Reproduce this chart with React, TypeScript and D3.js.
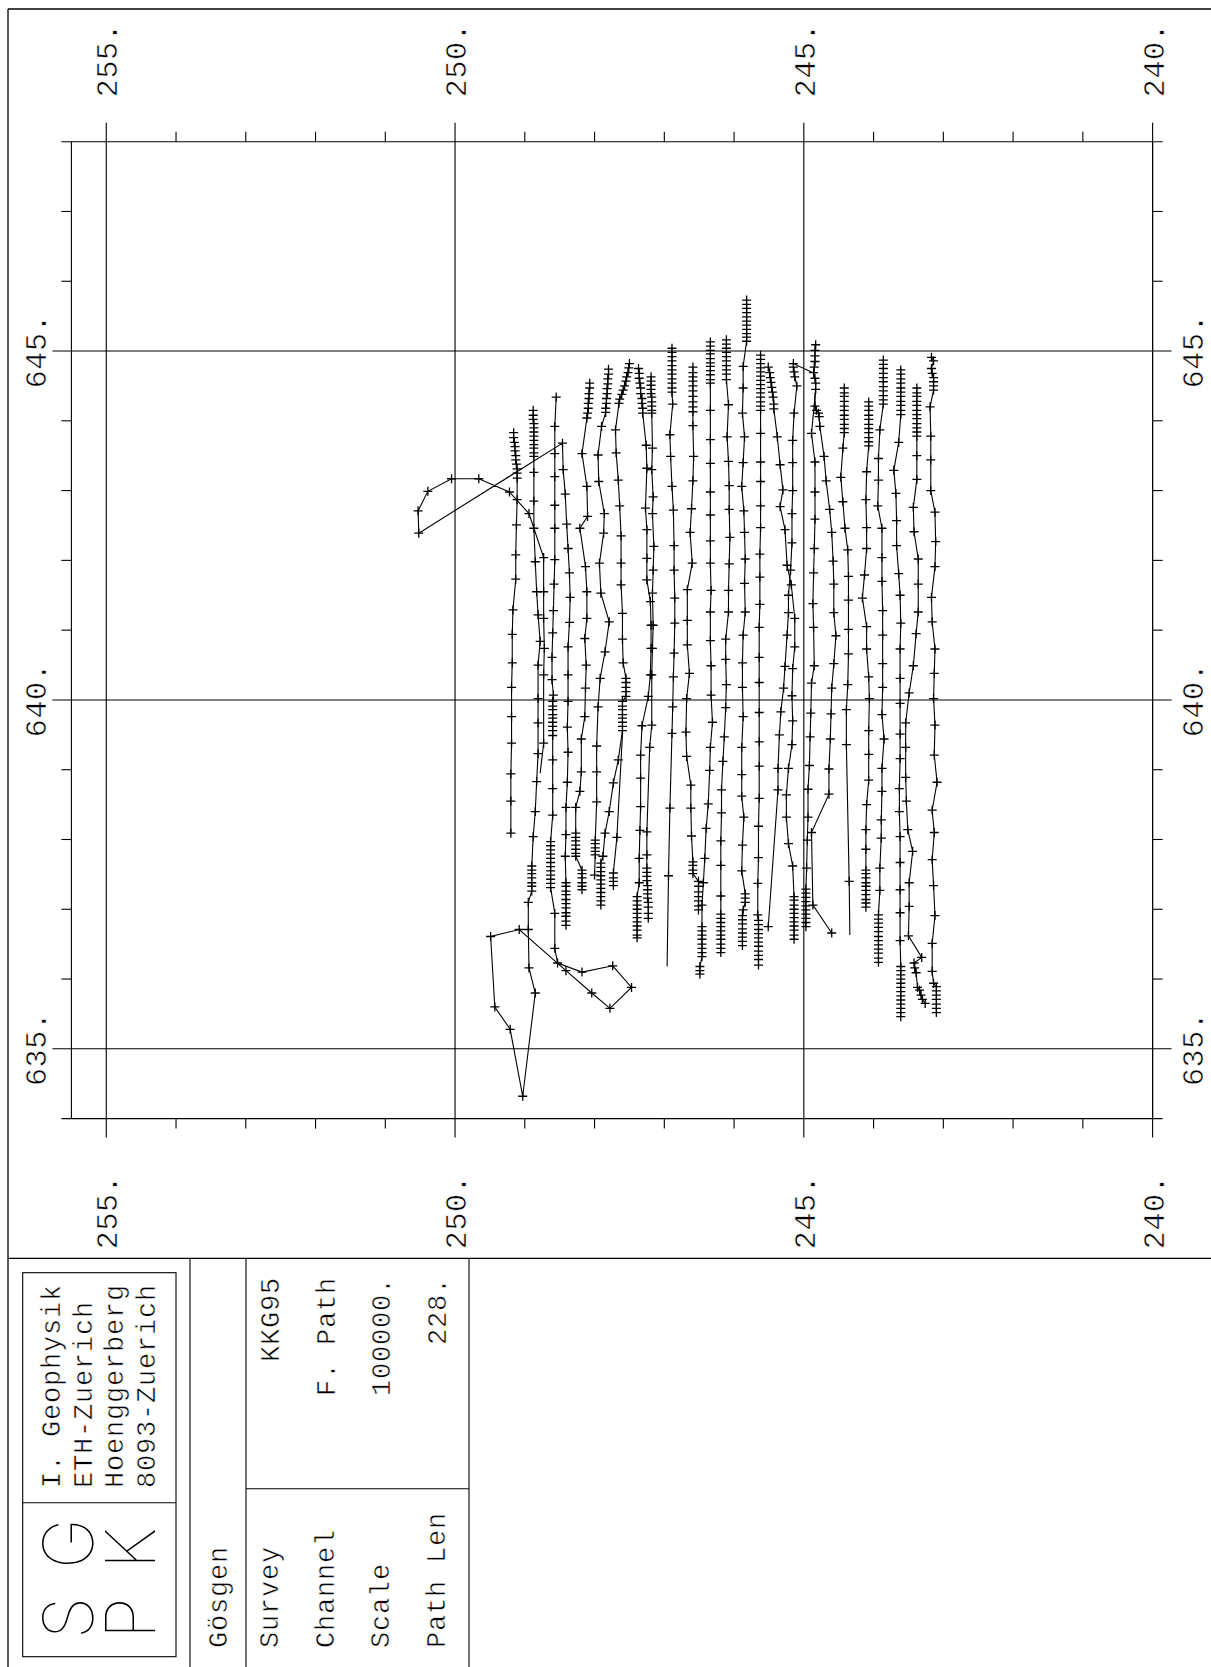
import React from 'react';
import * as d3 from 'd3';

// ---- axis ticks and labels ----
const eastMajor = [255, 250, 245, 240];
const eastLabels = ['255.', '250.', '245.', '240.'];
const eastMinor = [254, 253, 252, 251, 249, 248, 247, 246, 244, 243, 242, 241];
const northMajor = [645, 640, 635];
const northLabels = ['645.', '640.', '635.'];
const northMinor = [647, 646, 644, 643, 642, 641, 639, 638, 637, 636];

// ---- title block texts ----
const addressLines = ['I. Geophysik', 'ETH-Zuerich', 'Hoenggerberg', '8093-Zuerich'];
const siteName = 'Gösgen';
const infoKeys = ['Survey', 'Channel', 'Scale', 'Path Len'];
const infoValues = ['KKG95', 'F. Path', '100000.', '228.'];
const logoRows = [['S', 'G'], ['P', 'K']];

// ---- flight paths: [east, north] in km, third value 0 = no marker ----
type Pt = number[];

const line01: Pt[] = [[249.16,643.83],[249.16,643.76],[249.15,643.69],[249.14,643.63],[249.14,643.57],[249.13,643.50],[249.13,643.44],[249.12,643.38],[249.11,643.31],[249.11,643.25],[249.11,643.18],[249.11,642.87],[249.12,642.51],[249.13,642.08],[249.13,641.73],[249.17,641.29],[249.18,640.94],[249.18,640.53],[249.19,640.18],[249.19,639.76],[249.19,639.38],[249.20,638.94],[249.20,638.55],[249.20,638.09]];

const line02: Pt[] = [[248.88,644.15],[248.88,644.08],[248.88,644.02],[248.87,643.96],[248.87,643.90],[248.87,643.84],[248.87,643.78],[248.87,643.72],[248.87,643.66],[248.87,643.61],[248.87,643.54],[248.87,643.49],
[248.87,643.26],[248.87,642.85],[248.87,642.46],[248.85,641.98],[248.83,641.55],[248.81,641.22],[248.78,640.84],[248.81,640.50],[248.81,640.02],
[248.81,639.67],[248.81,639.23],[248.83,638.83],[248.85,638.40],[248.88,638.04],
[248.90,637.62],[248.90,637.56],[248.90,637.51],[248.90,637.45],[248.90,637.38],[248.90,637.33],[248.90,637.26],
[248.95,637.10],[248.95,636.71],[248.94,636.16],[248.85,635.80],[249.03,634.32],[249.21,635.28],[249.43,635.60],[249.49,636.61],[249.08,636.71],[248.41,636.12],[248.04,635.80],[247.78,635.58],[247.47,635.88],[247.74,636.19],[248.18,636.10],[248.53,636.23],[248.57,636.44],[248.57,636.94],
[248.63,637.31],[248.63,637.37],[248.63,637.43],[248.63,637.49],[248.63,637.55],[248.63,637.61],[248.63,637.67],[248.63,637.73],[248.63,637.79],[248.63,637.85],[248.63,637.91],[248.63,637.97],
[248.60,638.35],[248.60,638.73],[248.60,639.14],
[248.60,639.49],[248.60,639.56],[248.60,639.62],[248.60,639.68],[248.60,639.74],[248.60,639.79],[248.60,639.86],[248.60,639.91],[248.60,639.98],[248.59,640.07],
[248.61,640.29],[248.61,640.61],[248.60,640.96],[248.59,641.28],[248.58,641.66],[248.57,642.01],[248.57,642.46],[248.57,642.79],[248.57,643.20],[248.57,643.53],[248.57,643.92],[248.55,644.34]];

const line03: Pt[] = [[248.41,636.77],[248.41,636.83],[248.41,636.90],[248.41,636.95],[248.41,637.02],[248.41,637.08],[248.41,637.14],[248.41,637.21],[248.41,637.26],[248.41,637.33],[248.41,637.38],
[248.42,637.76],[248.41,638.07],[248.41,638.46],[248.39,638.82],[248.38,639.25],[248.39,639.61],[248.38,639.98],
[248.38,640.36],[248.38,640.76],[248.36,641.11],[248.35,641.47],[248.36,641.82],[248.38,642.17],[248.40,642.52],[248.42,642.95],[248.45,643.30],[248.46,643.68],
[250.52,642.39],[250.53,642.71],[250.39,642.99],[250.05,643.17],[249.66,643.17],[249.22,642.98],[248.94,642.67],[248.73,642.04],[248.73,641.55],[248.73,641.17],[248.72,640.74],[248.73,640.36],[248.73,639.38],[248.78,638.95,0]];

const line04: Pt[] = [[248.07,644.54],[248.07,644.47],[248.08,644.39],[248.08,644.32],[248.09,644.25],[248.09,644.18],[248.10,644.11],[248.11,644.04],[248.18,643.53],[248.11,643.06],[248.10,642.63],[248.21,642.46],[248.13,641.91],[248.11,641.55],[248.11,641.17],[248.14,640.88],[248.12,640.50],[248.13,640.17],[248.14,639.76],[248.19,639.44],[248.19,638.97],[248.21,638.69],[248.27,638.46],[248.27,638.09],[248.27,638.03],[248.27,637.98],[248.27,637.92],[248.27,637.86],[248.27,637.80],[248.27,637.76],[248.18,637.56],[248.18,637.51],[248.18,637.45],[248.18,637.38],[248.18,637.33],[248.18,637.28]];

const line05: Pt[] = [[247.80,644.74],[247.80,644.67],[247.81,644.60],[247.81,644.53],[247.82,644.46],[247.82,644.39],[247.83,644.32],[247.83,644.25],[247.84,644.18],[247.84,644.12],[247.90,643.92],[247.95,643.51],[247.94,643.13],[247.86,642.67],[247.87,642.39],[247.93,641.96],[247.91,641.53],[247.79,641.12],[247.85,640.69],[247.92,640.31],[247.95,639.90],[247.97,639.34],[247.97,638.97],[247.97,638.54],[247.99,637.99],[247.99,637.94],[247.99,637.88],[247.99,637.83],[247.99,637.78],[248.00,637.49]];

const line06: Pt[] = [[247.50,644.82],[247.51,644.76],[247.52,644.69],[247.54,644.63],[247.55,644.57],[247.57,644.50],[247.59,644.44],[247.61,644.38],[247.64,644.31],[247.65,644.25],[247.70,643.87],[247.69,643.54],[247.66,643.15],[247.64,642.78],[247.62,642.35],[247.62,641.96],[247.62,641.65],[247.60,641.24],[247.60,640.87],[247.59,640.53],[247.55,640.31],[247.55,640.25],[247.55,640.18],[247.55,640.12],[247.55,640.05],[247.60,639.98],[247.60,639.91],[247.60,639.86],[247.60,639.79],[247.60,639.74],[247.60,639.68],[247.60,639.62],[247.60,639.56],[247.66,639.14],[247.73,638.81],[247.79,638.40],[247.85,638.09],[247.88,637.76],[247.91,637.66],[247.91,637.60],[247.91,637.54],[247.91,637.48],[247.91,637.42],[247.91,637.36],[247.91,637.30],[247.91,637.24],[247.91,637.18],[247.91,637.12],[247.91,637.06]];

const line07: Pt[] = [[247.60,639.50,0],[247.68,638.03],[247.73,637.52],[247.73,637.45],[247.73,637.40],[247.73,637.34]];

const line08: Pt[] = [[247.37,644.75],[247.36,644.68],[247.36,644.61],[247.35,644.54],[247.34,644.47],[247.34,644.39],[247.32,644.32],[247.32,644.25],[247.31,644.18],[247.31,644.11],[247.26,643.65],[247.25,643.32],[247.27,642.75],[247.25,642.44],[247.25,642.03],[247.25,641.72],[247.20,641.41],[247.19,641.07],[247.19,640.74],[247.20,640.36],[247.23,640.05],[247.32,639.63],[247.34,639.21],[247.34,638.88],[247.34,638.47],[247.35,638.13],[247.36,637.73],[247.36,637.38],[247.39,637.18],[247.39,637.12],[247.39,637.06],[247.39,637.00],[247.39,636.94],[247.39,636.88],[247.39,636.82],[247.39,636.76],[247.39,636.70],[247.39,636.63],[247.39,636.59]];

const line09: Pt[] = [[247.19,644.63],[247.19,644.57],[247.19,644.51],[247.19,644.45],[247.19,644.39],[247.18,644.34],[247.18,644.27],[247.18,644.21],[247.18,644.15],[247.18,644.11],[247.17,643.61],[247.18,643.30],[247.16,642.91],[247.17,642.67],[247.15,642.20],[247.16,641.86],[247.17,641.53],[247.16,641.07],[247.17,640.74],[247.18,640.36],[247.18,639.64],[247.21,639.32],[247.25,638.11],[247.25,637.78],[247.25,637.59],[247.25,637.53],[247.25,637.47],[247.25,637.41],[247.24,637.34],[247.24,637.28],[247.24,637.22],[247.24,637.16],[247.23,637.10],[247.23,637.03],[247.23,636.94],[247.23,636.87]];

const line10: Pt[] = [[246.89,645.04],[246.89,644.98],[246.89,644.92],[246.89,644.86],[246.89,644.79],[246.89,644.73],[246.89,644.67],[246.89,644.60],[246.89,644.54],[246.89,644.47],[246.89,644.41],[246.88,644.24],[246.92,643.80],[246.91,643.49],[246.89,643.06],[246.87,642.72],[246.86,642.21],[246.86,641.86],[246.85,641.46],[246.85,641.10],[246.86,640.67],[246.87,640.33],[246.88,639.90],[246.89,639.52],[246.92,638.45],[246.94,637.48],[246.96,636.18,0]];

const line11: Pt[] = [[246.59,644.77],[246.59,644.69],[246.59,644.63],[246.59,644.57],[246.59,644.50],[246.59,644.43],[246.59,644.35],[246.59,644.27],[246.59,644.20],[246.59,644.13],[246.59,643.93],[246.58,643.49],[246.59,643.14],[246.61,642.74],[246.63,642.40],[246.60,641.96],[246.67,641.58],[246.67,641.14],[246.67,640.79],[246.64,640.38],[246.68,640.02],[246.69,639.54],[246.68,639.19],[246.62,638.78],[246.62,638.45],[246.61,638.05],[246.59,637.68],[246.59,637.63],[246.59,637.56],[246.59,637.51],[246.51,637.40],[246.51,637.33],[246.51,637.25],[246.51,637.18],[246.51,637.12],[246.51,637.05],[246.51,636.99]];

const line12: Pt[] = [[246.34,645.13],[246.34,645.07],[246.34,645.01],[246.34,644.96],[246.34,644.89],[246.34,644.83],[246.34,644.78],[246.34,644.72],[246.34,644.66],[246.34,644.59],[246.34,644.54],[246.34,644.15],[246.34,643.73],[246.34,643.39],[246.34,642.98],[246.34,642.65],[246.34,642.28],[246.34,641.96],[246.33,641.57],[246.34,641.26],[246.34,640.85],[246.33,640.49],[246.33,640.07],[246.31,639.68],[246.34,639.32],[246.35,638.99],[246.37,638.51],[246.40,638.16],[246.42,637.73],[246.44,637.38],[246.46,637.06],[246.46,636.75],[246.46,636.69],[246.46,636.63],[246.46,636.57],[246.46,636.50],[246.46,636.44],[246.46,636.38],[246.46,636.32],[246.49,636.18],[246.49,636.12],[246.49,636.07]];

const line13: Pt[] = [[246.11,645.16],[246.11,645.10],[246.11,645.04],[246.11,644.98],[246.11,644.92],[246.11,644.86],[246.11,644.79],[246.11,644.73],[246.11,644.67],[246.11,644.59],[246.08,644.23],[246.10,643.77],[246.08,643.42],[246.07,643.07],[246.07,642.73],[246.06,642.33],[246.07,641.95],[246.08,641.57],[246.08,641.26],[246.12,640.87],[246.12,640.58],[246.11,640.22],[246.12,639.89],[246.14,639.47],[246.16,639.12],[246.18,638.71],[246.18,638.38],[246.19,637.98],[246.19,637.63],[246.19,637.19],[246.19,636.93],[246.19,636.87],[246.19,636.81],[246.19,636.75],[246.19,636.69],[246.19,636.63],[246.19,636.57],[246.19,636.50],[246.19,636.44],[246.19,636.38]];

const line14: Pt[] = [[245.82,645.73],[245.82,645.67],[245.82,645.61],[245.82,645.55],[245.82,645.49],[245.82,645.43],[245.82,645.37],[245.82,645.31],[245.82,645.25],[245.82,645.20],[245.82,645.14],[245.87,644.78],[245.87,644.47],[245.88,644.11],[245.85,643.77],[245.87,643.40],[245.89,643.06],[245.86,642.71],[245.85,642.40],[245.84,642.02],[245.85,641.67],[245.84,641.26],[245.87,640.93],[245.88,640.53],[245.88,640.18],[245.87,639.76],[245.89,639.32],[245.89,638.93],[245.89,638.62],[245.86,638.32],[245.88,637.92],[245.89,637.55],[245.84,637.22],[245.84,637.16],[245.84,637.10],[245.87,636.99],[245.88,636.91],[245.88,636.85],[245.88,636.79],[245.88,636.72],[245.88,636.66],[245.88,636.60],[245.88,636.54],[245.88,636.48]];

const line15: Pt[] = [[245.62,644.94],[245.62,644.88],[245.62,644.82],[245.62,644.76],[245.62,644.70],[245.62,644.64],[245.62,644.58],[245.62,644.52],[245.62,644.46],[245.62,644.40],[245.62,644.34],[245.62,644.27],[245.62,644.21],[245.62,644.15],[245.62,643.82],[245.62,643.41],[245.62,643.13],[245.62,642.78],[245.62,642.47],[245.63,642.09],[245.63,641.76],[245.63,641.37],[245.64,641.04],[245.64,640.61],[245.64,640.25],[245.64,639.82],[245.64,639.40],[245.64,639.05],[245.64,638.59],[245.65,638.19],[245.65,637.74],[245.66,637.37],[245.66,636.92],[245.65,636.84],[245.65,636.78],[245.65,636.71],[245.65,636.65],[245.65,636.59],[245.65,636.53],[245.65,636.47],[245.65,636.40],[245.65,636.34],[245.65,636.28],[245.65,636.20]];

const line16: Pt[] = [[245.51,644.77],[245.49,644.69],[245.48,644.62],[245.47,644.55],[245.46,644.48],[245.45,644.41],[245.44,644.34],[245.43,644.24],[245.43,644.17],[245.38,643.77],[245.34,643.37],[245.30,643.01],[245.34,642.77],[245.27,642.44],[245.24,641.93],[245.18,641.65],[245.13,641.17],[245.13,640.76],[245.16,640.45],[245.17,640.06],[245.16,639.70],[245.17,639.36],[245.22,639.02],[245.25,638.64],[245.25,638.32],[245.22,637.94],[245.16,637.62],[245.14,637.18],[245.14,637.13],[245.14,637.06],[245.14,637.00],[245.14,636.94],[245.14,636.88],[245.14,636.82],[245.14,636.76],[245.14,636.70],[245.14,636.63],[245.14,636.57]];

const line17: Pt[] = [[244.87,644.69,0],[245.15,644.82],[245.15,644.77],[245.14,644.70],[245.13,644.63],[245.10,644.50],[245.14,644.11],[245.16,643.72],[245.16,643.40],[245.16,643.00],[245.17,642.67],[245.17,642.25],[245.19,641.86],[245.22,641.50],[245.22,641.25],[245.24,640.93],[245.27,640.48],[245.29,640.17],[245.33,639.83],[245.35,639.50],[245.37,639.02],[245.37,638.71],[245.51,636.75]];

const line18: Pt[] = [[244.83,645.09],[244.84,645.01],[244.84,644.93],[244.84,644.85],[244.85,644.77],[244.86,644.69],[244.84,644.61],[244.83,644.54],[244.83,644.45],[244.89,643.82],[244.84,643.41],[244.84,642.98],[244.84,642.59],[244.85,642.17],[244.86,641.82],[244.87,641.38],[244.86,641.04],[244.85,640.49],[244.89,640.24],[244.90,639.81],[244.91,639.47],[244.92,639.06],[244.94,638.72],[244.94,638.32],[244.95,637.99],[244.96,637.59],[244.97,637.29],[244.97,637.23],[244.97,637.17],[244.97,637.11],[244.97,637.05],[244.97,636.99],[244.97,636.93],[244.97,636.87],[244.97,636.81],[244.97,636.75]];

const line19: Pt[] = [[244.84,644.40,0],[244.84,644.21],[244.82,644.15],[244.79,644.11],[244.78,644.06],[244.77,643.92],[244.71,643.49],[244.68,643.14],[244.63,642.73],[244.60,642.40],[244.58,641.99],[244.57,641.66],[244.57,641.25],[244.54,640.92],[244.57,640.52],[244.60,640.17],[244.61,639.80],[244.62,639.44],[244.64,639.01],[244.64,638.65],[244.89,638.10],[244.87,637.06],[244.60,636.66]];

const line20: Pt[] = [[244.42,644.47],[244.42,644.40],[244.42,644.35],[244.42,644.28],[244.42,644.21],[244.42,644.15],[244.42,644.08],[244.42,644.02],[244.42,643.95],[244.42,643.89],[244.42,643.83],[244.44,643.61],[244.47,643.19],[244.44,642.84],[244.41,642.46],[244.37,642.15],[244.36,641.77],[244.36,641.43],[244.36,641.01],[244.36,640.66],[244.37,640.22],[244.39,639.86],[244.39,639.36],[244.35,637.40],[244.34,636.63,0]];

const line21: Pt[] = [[244.07,644.27],[244.07,644.21],[244.07,644.15],[244.07,644.08],[244.07,644.02],[244.07,643.95],[244.07,643.89],[244.07,643.83],[244.07,643.76],[244.07,643.70],[244.07,643.64],[244.10,643.27],[244.11,642.87],[244.10,642.47],[244.10,642.17],[244.13,641.79],[244.16,641.46],[244.10,641.05],[244.10,640.73],[244.07,640.33],[244.06,640.02],[244.07,639.56],[244.07,639.22],[244.07,638.85],[244.10,638.50],[244.11,638.14],[244.11,637.86],[244.11,637.56],[244.11,637.51],[244.11,637.45],[244.11,637.38],[244.11,637.33],[244.11,637.27],[244.11,637.21],[244.11,637.14],[244.11,637.09],[244.11,637.03]];

const line22: Pt[] = [[243.86,644.87],[243.86,644.81],[243.86,644.75],[243.86,644.68],[243.86,644.62],[243.86,644.56],[243.86,644.49],[243.86,644.43],[243.86,644.36],[243.86,644.30],[243.86,644.24],[243.91,643.87],[243.93,643.46],[243.93,643.15],[243.94,642.78],[243.88,642.46],[243.88,642.04],[243.88,641.70],[243.87,641.28],[243.87,640.93],[243.87,640.52],[243.87,640.18],[243.88,639.79],[243.85,639.44],[243.88,639.02],[243.88,638.69],[243.89,638.28],[243.89,638.02],[243.91,637.59],[243.91,637.27],[243.93,636.92],[243.93,636.86],[243.93,636.80],[243.93,636.74],[243.93,636.68],[243.93,636.61],[243.93,636.55],[243.93,636.49],[243.93,636.43],[243.93,636.37],[243.93,636.30],[243.93,636.24]];

const line23: Pt[] = [[243.61,644.73],[243.61,644.67],[243.61,644.60],[243.61,644.54],[243.61,644.47],[243.61,644.41],[243.61,644.35],[243.61,644.28],[243.61,644.22],[243.61,644.15],[243.61,644.09],[243.64,643.69],[243.71,643.29],[243.68,642.96],[243.67,642.57],[243.67,642.21],[243.64,641.81],[243.62,641.50],[243.61,641.10],[243.62,640.73],[243.62,640.31],[243.62,639.95],[243.62,639.51],[243.62,639.16],[243.63,638.73],[243.63,638.40],[243.62,638.04],[243.62,637.67],[243.62,637.28],[243.62,636.95],[243.62,636.55],[243.61,636.18],[243.61,636.12],[243.61,636.06],[243.61,636.00],[243.61,635.94],[243.61,635.88],[243.61,635.82],[243.61,635.76],[243.61,635.70],[243.61,635.64],[243.61,635.58],[243.61,635.52],[243.61,635.46]];

const line24: Pt[] = [[243.38,644.47],[243.38,644.40],[243.38,644.35],[243.38,644.28],[243.38,644.22],[243.38,644.15],[243.38,644.09],[243.38,644.03],[243.38,643.96],[243.38,643.90],[243.38,643.84],[243.38,643.78],[243.38,643.50],[243.38,643.16],[243.43,642.76],[243.42,642.41],[243.36,642.02],[243.36,641.66],[243.36,641.26],[243.39,640.95],[243.43,640.49],[243.49,640.10],[243.54,639.67],[243.54,639.32],[243.54,638.89],[243.53,638.55],[243.51,638.14],[243.44,637.83],[243.49,637.38],[243.49,637.04],[243.50,636.62],[243.31,636.31],[243.42,636.23],[243.41,636.16],[243.39,636.09],[243.37,635.88],[243.34,635.84],[243.32,635.77],[243.30,635.71],[243.26,635.65]];

const line25: Pt[] = [[243.17,644.91],[243.14,644.86],[243.17,644.75],[243.16,644.68],[243.14,644.62],[243.14,644.56],[243.14,644.50],[243.14,644.44],[243.19,644.20],[243.18,643.78],[243.18,643.44],[243.18,643.00],[243.12,642.69],[243.11,642.27],[243.12,641.91],[243.17,641.47],[243.16,641.12],[243.12,640.73],[243.13,640.38],[243.14,640.02],[243.12,639.64],[243.13,639.21],[243.09,638.82],[243.16,638.42],[243.13,638.10],[243.16,637.71],[243.14,637.34],[243.12,636.91],[243.16,636.51],[243.16,636.11],[243.14,635.94],[243.10,635.89],[243.10,635.83],[243.10,635.77],[243.10,635.71],[243.10,635.64],[243.10,635.58],[243.10,635.52]];

const flightLines: Pt[][] = [line01, line02, line03, line04, line05, line06, line07, line08, line09, line10, line11, line12, line13, line14, line15, line16, line17, line18, line19, line20, line21, line22, line23, line24, line25];

// ---- page geometry ----
const W = 1211;
const H = 1667;
const MONO = "'Liberation Mono', 'DejaVu Sans Mono', monospace";

const x = d3.scaleLinear().domain([255.5, 240]).range([71.4, 1152.6]);
const y = d3.scaleLinear().domain([648, 634]).range([141.7, 1118.6]);

const pathGen = d3.line<Pt>().x((d) => x(d[0])).y((d) => y(d[1]));

function crossPath(pts: Pt[], r: number): string {
  const p = d3.path();
  pts.forEach((d) => {
    if (d[2] === 0) return;
    const cx = x(d[0]);
    const cy = y(d[1]);
    p.moveTo(cx - r, cy);
    p.lineTo(cx + r, cy);
    p.moveTo(cx, cy - r);
    p.lineTo(cx, cy + r);
  });
  return p.toString();
}

// Rotated plotter-style text; a thin white outline slims the glyph strokes.
function Rot({ px, py, anchor, size, children, spacing }: any) {
  return (
    <text
      transform={`translate(${px},${py}) rotate(-90)`}
      textAnchor={anchor}
      fontSize={size}
      fontFamily={MONO}
      letterSpacing={spacing ?? 0}
      fill="#000"
      stroke="#fff"
      strokeWidth={0.55}
    >
      {children}
    </text>
  );
}

export default function App() {
  const [x0, x1] = x.range();
  const [y0, y1] = y.range();
  const stroke = { stroke: '#000', strokeWidth: 1.1, fill: 'none' };

  return (
    <div style={{ position: 'absolute', left: 0, top: 0, width: W, height: H, background: '#fff' }}>
      <svg width={W} height={H} viewBox={`0 0 ${W} ${H}`} style={{ display: 'block' }}>
        <rect x={0} y={0} width={W} height={H} fill="#fff" />

        {/* sheet frame */}
        <line x1={8} y1={9} x2={W} y2={9} {...stroke} strokeWidth={1.3} />
        <line x1={8} y1={9} x2={8} y2={H} {...stroke} strokeWidth={1.3} />
        <line x1={8} y1={1258.3} x2={W} y2={1258.3} {...stroke} strokeWidth={1.3} />

        {/* map frame */}
        <line x1={x0 - 10} y1={y0} x2={x1 + 10} y2={y0} {...stroke} />
        <line x1={x0 - 10} y1={y1} x2={x1 + 10} y2={y1} {...stroke} />
        <line x1={x0} y1={y0} x2={x0} y2={y1} {...stroke} />
        <line x1={x1} y1={y0} x2={x1} y2={y1} {...stroke} />

        {/* grid lines */}
        {eastMajor.map((v) => (
          <line key={'em' + v} x1={x(v)} y1={y0 - 19} x2={x(v)} y2={y1 + 19} {...stroke} />
        ))}
        {northMajor.map((v) => (
          <line key={'nm' + v} x1={x0 - 19} y1={y(v)} x2={x1 + 19} y2={y(v)} {...stroke} />
        ))}
        {eastMinor.map((v) => (
          <g key={'et' + v}>
            <line x1={x(v)} y1={y0 - 10} x2={x(v)} y2={y0} {...stroke} />
            <line x1={x(v)} y1={y1} x2={x(v)} y2={y1 + 10} {...stroke} />
          </g>
        ))}
        {northMinor.map((v) => (
          <g key={'nt' + v}>
            <line x1={x0 - 10} y1={y(v)} x2={x0} y2={y(v)} {...stroke} />
            <line x1={x1} y1={y(v)} x2={x1 + 10} y2={y(v)} {...stroke} />
          </g>
        ))}

        {/* tick labels */}
        {eastMajor.map((v, i) => (
          <g key={'el' + v}>
            <Rot px={x(v) + 11} py={60} anchor="middle" size={30} spacing={0.6}>{eastLabels[i]}</Rot>
            <Rot px={x(v) + 11} py={1212} anchor="middle" size={30} spacing={0.6}>{eastLabels[i]}</Rot>
          </g>
        ))}
        {northMajor.map((v, i) => (
          <g key={'nl' + v}>
            <Rot px={46} py={y(v)} anchor="middle" size={30} spacing={0.6}>{northLabels[i]}</Rot>
            <Rot px={1203} py={y(v)} anchor="middle" size={30} spacing={0.6}>{northLabels[i]}</Rot>
          </g>
        ))}

        {/* flight paths */}
        {flightLines.map((pts, i) => (
          <g key={'fl' + i}>
            <path d={pathGen(pts) ?? ''} {...stroke} strokeWidth={1.1} />
            <path d={crossPath(pts, 4.5)} {...stroke} strokeWidth={1.3} />
          </g>
        ))}

        {/* title block */}
        <line x1={190} y1={1258.3} x2={190} y2={H} {...stroke} />
        <line x1={246} y1={1258.3} x2={246} y2={H} {...stroke} />
        <line x1={469} y1={1258.3} x2={469} y2={H} {...stroke} />
        <line x1={246} y1={1488.7} x2={469} y2={1488.7} {...stroke} />
        <rect x={22.7} y={1272.7} width={153.3} height={384} {...stroke} />
        <line x1={22.7} y1={1502.7} x2={176} y2={1502.7} {...stroke} />

        {logoRows.map((row, r) =>
          row.map((ch, c) => (
            <text
              key={'lg' + r + c}
              transform={`translate(${r === 0 ? 93 : 155},${c === 0 ? 1639 : 1569}) rotate(-90)`}
              fontSize={69}
              fontFamily="Inter, 'Open Sans', sans-serif"
              fontWeight={100}
              fill="#000"
            >
              {ch}
            </text>
          ))
        )}

        {addressLines.map((t, i) => (
          <Rot key={'ad' + i} px={60 + i * 31.7} py={1488} anchor="start" size={27} spacing={0.8}>{t}</Rot>
        ))}
        <Rot px={227} py={1648} anchor="start" size={27} spacing={0.8}>{siteName}</Rot>
        {infoKeys.map((t, i) => (
          <Rot key={'ik' + i} px={278 + i * 55.7} py={1648} anchor="start" size={27} spacing={0.8}>{t}</Rot>
        ))}
        {infoValues.map((t, i) => (
          <Rot key={'iv' + i} px={279 + i * 55.7} py={1277} anchor="end" size={27} spacing={0.8}>{t}</Rot>
        ))}
      </svg>
    </div>
  );
}
